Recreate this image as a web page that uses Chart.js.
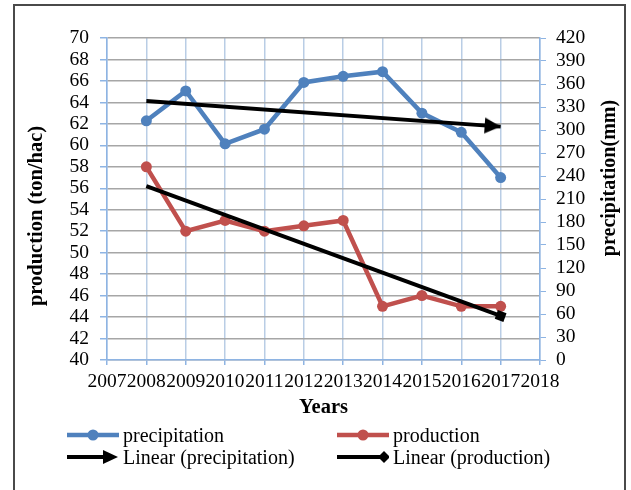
<!DOCTYPE html>
<html>
<head>
<meta charset="utf-8">
<script src="https://cdn.jsdelivr.net/npm/chart.js@4/dist/chart.umd.min.js"></script>
<style>
  body { margin: 0; background: #fff; }
  .wrap { position: relative; width: 631px; height: 490px; overflow: hidden; }
  .frame { position: absolute; left: 13px; top: 4px; width: 613px; height: 520px; border: 2px solid #4a4a4a; box-sizing: border-box; }
  canvas { position: absolute; left: 0; top: 0; }
  .legend { position: absolute; left: 67px; top: 424px; font: 20px "Liberation Serif", serif; color: #000; }
  .row { display: flex; height: 22px; line-height: 22px; }
  .item { display: flex; align-items: center; width: 270px; white-space: nowrap; }
  .item svg { width: 52px; height: 22px; margin-right: 4px; flex: none; }
</style>
</head>
<body>
<div class="wrap">
  <div class="frame"></div>
  <canvas id="chart" width="631" height="490"></canvas>
  <div class="legend">
    <div class="row">
      <div class="item"><svg viewBox="0 0 52 22"><line x1="0" y1="11" x2="52" y2="11" stroke="#4F81BD" stroke-width="4.5"/><circle cx="26" cy="11" r="5.5" fill="#4F81BD"/></svg>precipitation</div>
      <div class="item"><svg viewBox="0 0 52 22"><line x1="0" y1="11" x2="52" y2="11" stroke="#C0504D" stroke-width="4.5"/><circle cx="26" cy="11" r="5.5" fill="#C0504D"/></svg>production</div>
    </div>
    <div class="row">
      <div class="item"><svg viewBox="0 0 52 22"><line x1="0" y1="11" x2="38" y2="11" stroke="#000" stroke-width="4"/><polygon points="36,4 51,11 36,18" fill="#000"/></svg>Linear (precipitation)</div>
      <div class="item"><svg viewBox="0 0 52 22"><line x1="0" y1="11" x2="46" y2="11" stroke="#000" stroke-width="4"/><polygon points="47,5 53,11 47,17 41,11" fill="#000"/></svg>Linear (production)</div>
    </div>
  </div>
</div>
<script>
const years = [2008, 2009, 2010, 2011, 2012, 2013, 2014, 2015, 2016, 2017];
const precipitation = [312, 351, 282, 301, 362, 370, 376, 322, 297, 238];
const production = [58, 52, 53, 52, 52.5, 53, 45, 46, 45, 45];
const trendYears = [2008, 2017];
const precipTrend = [337.8, 304.4];
const prodTrend = [56.2, 44.1];
const xRange = [2007, 2018, 1];
const prodRange = [40, 70, 2];
const precipRange = [0, 420, 30];

const blue = '#4F81BD';
const red = '#C0504D';
const serif = '"Liberation Serif", "Times New Roman", serif';

function pts(xs, ys) {
  return xs.map((x, i) => ({x: x, y: ys[i]}));
}

// arrow head with its tip at the centre of the canvas
const arrow = document.createElement('canvas');
arrow.width = 36; arrow.height = 18;
const actx = arrow.getContext('2d');
actx.fillStyle = '#000';
actx.beginPath();
actx.moveTo(2, 1); actx.lineTo(18, 9); actx.lineTo(2, 17);
actx.closePath();
actx.fill();

const yTitles = {
  id: 'yTitles',
  afterDraw(chart) {
    const ctx = chart.ctx;
    ctx.save();
    ctx.fillStyle = '#000';
    ctx.font = 'bold 20.5px ' + serif;
    ctx.textAlign = 'center';
    ctx.textBaseline = 'middle';
    ctx.translate(37, 216);
    ctx.rotate(-Math.PI / 2);
    ctx.fillText('production (ton/hac)', 0, 0);
    ctx.restore();
    ctx.save();
    ctx.fillStyle = '#000';
    ctx.font = 'bold 20px ' + serif;
    ctx.textAlign = 'center';
    ctx.textBaseline = 'middle';
    ctx.translate(610, 178);
    ctx.rotate(-Math.PI / 2);
    ctx.fillText('precipitation(mm)', 0, 0);
    ctx.restore();
  }
};

const tickFont = {family: serif, size: 19.5};

new Chart(document.getElementById('chart'), {
  type: 'line',
  data: {
    datasets: [{
      label: 'precipitation',
      data: pts(years, precipitation),
      yAxisID: 'y1',
      borderColor: blue,
      backgroundColor: blue,
      borderWidth: 4.5,
      pointRadius: 5.5,
      pointBorderWidth: 0,
      pointBackgroundColor: blue,
      order: 2
    }, {
      label: 'production',
      data: pts(years, production),
      yAxisID: 'y',
      borderColor: red,
      backgroundColor: red,
      borderWidth: 4.5,
      pointRadius: 5.5,
      pointBorderWidth: 0,
      pointBackgroundColor: red,
      order: 2
    }, {
      label: 'Linear (precipitation)',
      data: pts(trendYears, precipTrend),
      yAxisID: 'y1',
      borderColor: '#000',
      borderWidth: 4,
      pointStyle: arrow,
      pointRadius: [0, 8],
      pointRotation: 4,
      order: 1
    }, {
      label: 'Linear (production)',
      data: pts(trendYears, prodTrend),
      yAxisID: 'y',
      borderColor: '#000',
      backgroundColor: '#000',
      borderWidth: 4,
      pointStyle: 'rect',
      pointRadius: [0, 6.5],
      pointRotation: 20,
      pointBorderWidth: 0,
      order: 1
    }]
  },
  options: {
    responsive: false,
    animation: false,
    events: [],
    layout: {padding: {left: 26, right: 0, top: 38, bottom: 70}},
    plugins: {legend: {display: false}, tooltip: {enabled: false}},
    scales: {
      x: {
        type: 'linear',
        min: xRange[0], max: xRange[1],
        afterFit(s) { s.height = 60; },
        ticks: {stepSize: xRange[2], color: '#000', font: tickFont, autoSkip: false, maxRotation: 0, padding: 5, callback: v => String(v)},
        grid: {color: '#B9CDE5', lineWidth: 1.5, tickColor: '#8EB4E3', tickLength: 5},
        border: {color: '#8EB4E3', width: 1.5},
        title: {display: true, text: 'Years', color: '#000', font: {family: serif, size: 20.5, weight: 'bold'}, padding: 0}
      },
      y: {
        position: 'left',
        min: prodRange[0], max: prodRange[1],
        afterFit(s) { s.width = 81; },
        ticks: {stepSize: prodRange[2], color: '#000', font: tickFont, padding: 11, autoSkip: false},
        grid: {color: '#A6A6A6', lineWidth: 1.5, tickColor: '#8EB4E3', tickLength: 7},
        border: {color: '#8EB4E3', width: 1.5}
      },
      y1: {
        position: 'right',
        min: precipRange[0], max: precipRange[1],
        afterFit(s) { s.width = 91; },
        ticks: {stepSize: precipRange[2], color: '#000', font: tickFont, padding: 10, autoSkip: false},
        grid: {color: 'rgba(0,0,0,0)', tickColor: '#8EB4E3', tickLength: 6},
        border: {color: '#8EB4E3', width: 1.5}
      }
    }
  },
  plugins: [yTitles]
});
</script>
</body>
</html>
